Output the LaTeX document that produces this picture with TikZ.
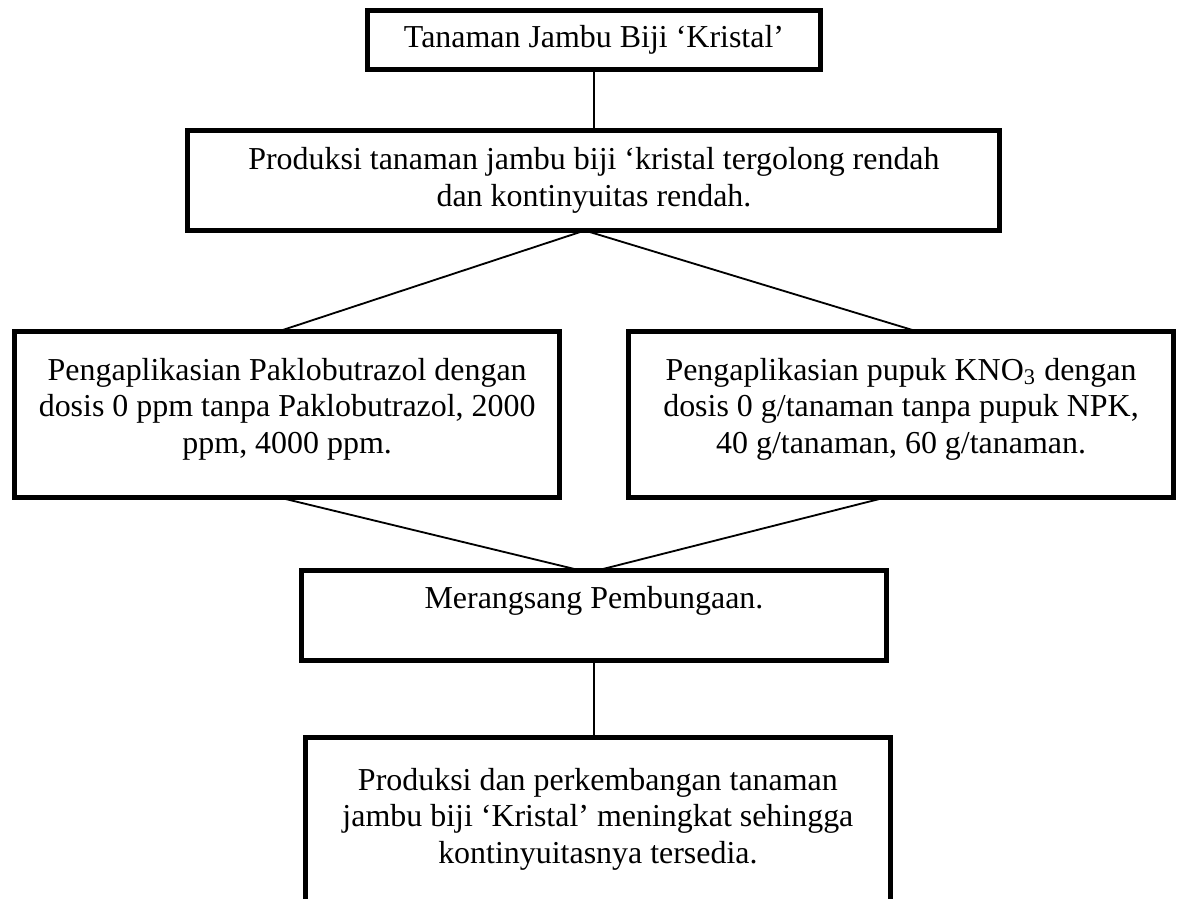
\documentclass[tikz,border=0pt]{standalone}
\usepackage{fontspec}
\setmainfont{Liberation Serif}
\usepackage{tikz}
\usetikzlibrary{positioning}
\tikzset{
  kgbox/.style  = {draw, line width=1.9pt, align=center, inner sep=0pt,
                   outer sep=0pt, fill=white,
                   font=\fontsize{12.2}{14.1}\selectfont},
  kgside/.style = {kgbox, minimum width=208.2pt, minimum height=63.4pt},
  kgline/.style = {line width=0.7pt}
}

\begin{document}
\begin{tikzpicture}[node distance=23.3pt]
  \fill[white] (0,0) rectangle (452.3pt,-343.4pt);
  \useasboundingbox (0,0) rectangle (452.3pt,-343.4pt);
  \clip (0,0) rectangle (452.3pt,-343.4pt);

  \node[kgbox, minimum width=172.7pt, minimum height=22.5pt]
        (tan) at (226.9pt,-15.3pt) {Tanaman Jambu Biji ‘Kristal’};
  \node[kgbox, minimum width=310.2pt, minimum height=38.2pt, below=of tan]
        (prod) {Produksi tanaman jambu biji ‘kristal tergolong rendah\\
                dan kontinyuitas rendah.};

  \node[kgside, below=38.6pt of prod, xshift=-117.2pt] (pak)
        {Pengaplikasian Paklobutrazol dengan\\
         dosis 0 ppm tanpa Paklobutrazol, 2000\\
         ppm, 4000 ppm.\\[-7.5pt]\mbox{}};
  \node[kgside, below=38.6pt of prod, xshift=117.3pt] (kno)
        {Pengaplikasian pupuk KNO\textsubscript{3} dengan\\
         dosis 0 g/tanaman tanpa pupuk NPK,\\
         40 g/tanaman, 60 g/tanaman.\\[-7.5pt]\mbox{}};

  \coordinate (mid) at (pak.south -| prod.south);
  \node[kgbox, minimum width=223.5pt, minimum height=34.4pt, below=27.9pt of mid]
        (rang) {Merangsang Pembungaan.\\\mbox{}};
  \node[kgbox, minimum width=223.5pt, minimum height=66.4pt, below=29.4pt of rang,
        xshift=1.5pt] (hasil)
        {Produksi dan perkembangan tanaman\\
         jambu biji ‘Kristal’ meningkat sehingga\\
         kontinyuitasnya tersedia.\\[-7.5pt]\mbox{}};

  \draw[kgline] (tan) -- (prod);
  \draw[kgline] ([xshift=-3.5pt]prod.south) -- ([xshift=-3.5pt]pak.north);
  \draw[kgline] ([xshift=-3.5pt]prod.south) -- ([xshift=6.3pt]kno.north);
  \draw[kgline] ([xshift=-3pt]pak.south) -- ([xshift=-5pt]rang.north);
  \draw[kgline] ([xshift=-6pt]kno.south) -- ([xshift=1.1pt]rang.north);
  \draw[kgline] (rang.south) -- (rang.south |- hasil.north);
\end{tikzpicture}
\end{document}
